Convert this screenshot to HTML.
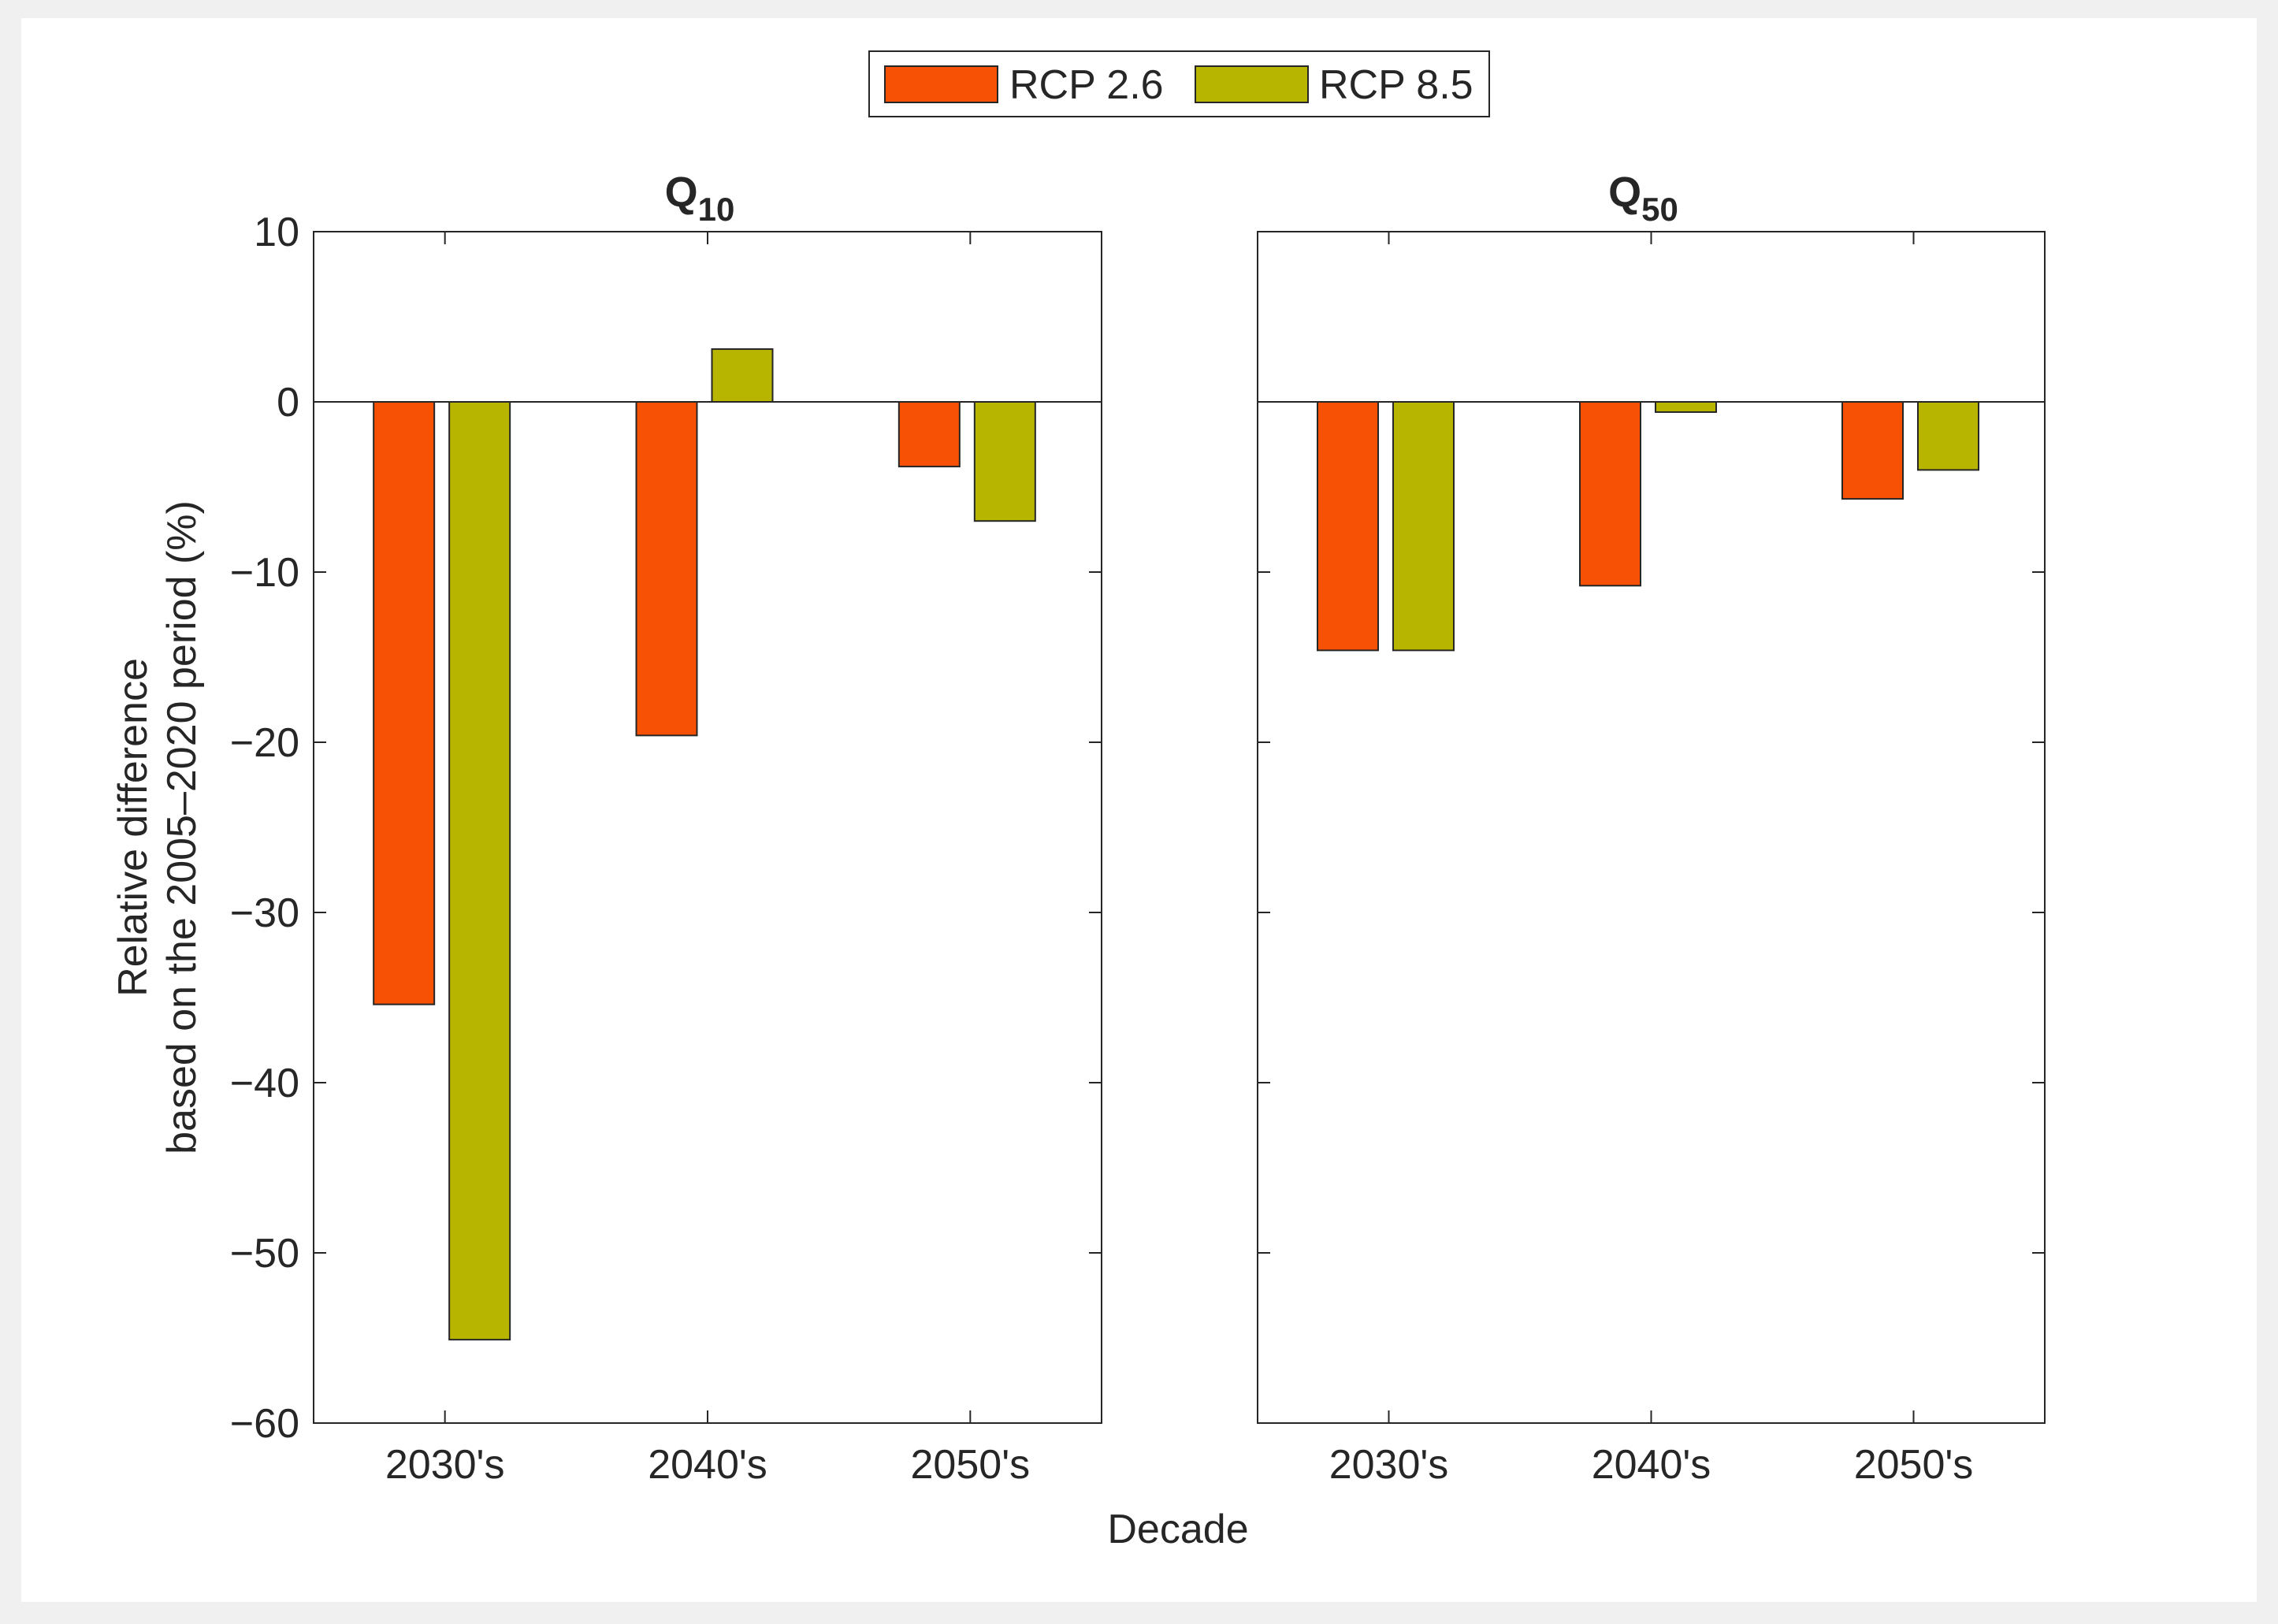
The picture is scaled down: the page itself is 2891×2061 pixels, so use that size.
<!DOCTYPE html>
<html><head><meta charset="utf-8">
<style>
html,body{margin:0;padding:0;background:#f0f0f0;}
svg{display:block;}
text{font-family:"Liberation Sans","DejaVu Sans",sans-serif;fill:#262626;}
</style></head>
<body>
<svg id="chart" width="2891" height="2061" viewBox="0 0 2891 2061" xmlns="http://www.w3.org/2000/svg">
<rect x="27" y="23" width="2837" height="2010" fill="#ffffff"/>
<g id="legend">
<rect x="1103" y="65" width="787" height="83" fill="#fff" stroke="#262626" stroke-width="2"/>
<rect x="1123" y="84" width="143" height="46" fill="#f75106" stroke="#262626" stroke-width="2"/>
<text x="1281" y="125" font-size="52">RCP 2.6</text>
<rect x="1517" y="84" width="143" height="46" fill="#b8b500" stroke="#262626" stroke-width="2"/>
<text x="1674" y="125" font-size="52">RCP 8.5</text>
</g>
<text x="1495" y="1958" font-size="52" text-anchor="middle">Decade</text>
<text transform="translate(186,1050) rotate(-90)" font-size="52" text-anchor="middle">Relative difference</text>
<text transform="translate(248,1050) rotate(-90)" font-size="52" text-anchor="middle">based on the 2005–2020 period (%)</text>
</svg>
<script>
const categories = ["2030's", "2040's", "2050's"];
const q10Rcp26 = [-35.4, -19.6, -3.8];
const q10Rcp85 = [-55.1, 3.1, -7.0];
const q50Rcp26 = [-14.6, -10.8, -5.7];
const q50Rcp85 = [-14.6, -0.6, -4.0];
const yTicks = [10, 0, -10, -20, -30, -40, -50, -60];
const yTickLabels = ["10", "0", "−10", "−20", "−30", "−40", "−50", "−60"];
const panelTitles = ["10", "50"];

const NS = "http://www.w3.org/2000/svg";
const svg = document.getElementById('chart');
const plotTop = 294, plotBottom = 1806, yMin = -60, yMax = 10;
function yS(v){ return plotTop + (yMax - v) / (yMax - yMin) * (plotBottom - plotTop); }
function mk(tag, attrs, parent){
  const e = document.createElementNS(NS, tag);
  for (const k in attrs) e.setAttribute(k, attrs[k]);
  (parent || svg).appendChild(e);
  return e;
}
function panel(left, right, s1, s2, sub, showLabels){
  const g = mk('g', {});
  
  
  const w = right - left;
  function xS(i){ return left + (i + 0.5) / categories.length * w; }
  const bw = 77;
  const zl = mk('line', {x1:left, x2:right, y1:yS(0), y2:yS(0), stroke:'#262626', 'stroke-width':2}, g);
  
  
  categories.forEach((c, i) => {
    [[s1, -52, '#f75106', 'rcp26'], [s2, 44, '#b8b500', 'rcp85']].forEach(([arr, o, col, nm]) => {
      const v = arr[i];
      const y0 = yS(Math.max(v, 0)), y1 = yS(Math.min(v, 0));
      const r = mk('rect', {x: xS(i) + o - bw/2, y: y0, width: bw, height: Math.max(y1 - y0, 1), fill: col, stroke: '#262626', 'stroke-width': 2}, g);
      
      
    });
    const t1 = mk('line', {x1:xS(i), x2:xS(i), y1:plotBottom, y2:plotBottom-16, stroke:'#262626', 'stroke-width':2}, g);
    
    
    const t2 = mk('line', {x1:xS(i), x2:xS(i), y1:plotTop, y2:plotTop+16, stroke:'#262626', 'stroke-width':2}, g);
    
    
    const lb = mk('text', {x:xS(i), y:1876, 'font-size':52, 'text-anchor':'middle'}, g);
    lb.textContent = c;
    
    
  });
  yTicks.forEach((v, k) => {
    const a = mk('line', {x1:left, x2:left+16, y1:yS(v), y2:yS(v), stroke:'#262626', 'stroke-width':2}, g);
    
    
    const b = mk('line', {x1:right, x2:right-16, y1:yS(v), y2:yS(v), stroke:'#262626', 'stroke-width':2}, g);
    
    
    if (showLabels){
      const t = mk('text', {x:380, y:yS(v)+18, 'font-size':52, 'text-anchor':'end'}, g);
      t.textContent = yTickLabels[k];
      
      
    }
  });
  const fr = mk('rect', {x:left, y:plotTop, width:w, height:plotBottom-plotTop, fill:'none', stroke:'#262626', 'stroke-width':2}, g);
  
  
  const tt = mk('text', {x:(left+right)/2 - 10, y:262, 'font-size':54, 'font-weight':'bold', 'text-anchor':'middle'}, g);
  
  
  tt.appendChild(document.createTextNode('Q'));
  const ts = mk('tspan', {dy:18, 'font-size':42}, tt);
  ts.textContent = sub;
}
panel(398, 1398, q10Rcp26, q10Rcp85, panelTitles[0], true);
panel(1596, 2595, q50Rcp26, q50Rcp85, panelTitles[1], false);
</script>
</body></html>
